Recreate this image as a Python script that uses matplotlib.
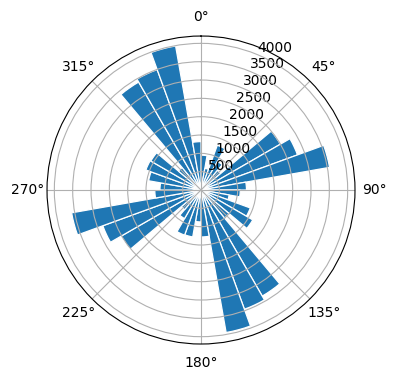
import matplotlib
matplotlib.use("Agg")
import matplotlib.pyplot as plt
import numpy as np

# direction bins (degrees, left edge) and counts
directions = list(range(0, 360, 10))
counts = [950, 600, 1300, 900, 700, 2500, 2800, 3560, 1240,
          1070, 780, 1430, 1630, 1000, 3340, 3460, 3946, 1280,
          870, 1300, 1310, 900, 700, 2520, 2850, 3583, 1260,
          1120, 1450, 1600, 1580, 800, 3400, 3495, 3990, 1320]

fig = plt.figure(figsize=(3.96, 3.8), dpi=100)
ax = fig.add_axes([0.1187, 0.0947, 0.7778, 0.8105], projection="polar")
ax.set_theta_zero_location("N")
ax.set_theta_direction(-1)

theta = np.deg2rad(directions)
ax.bar(theta, counts, width=np.deg2rad(10), align="edge",
       color="#1f77b4", edgecolor="white", linewidth=0.9)
ax.set_ylim(0, 4200)
ax.set_yticks([500, 1000, 1500, 2000, 2500, 3000, 3500, 4000])

fig.savefig("out.png", dpi=100)
